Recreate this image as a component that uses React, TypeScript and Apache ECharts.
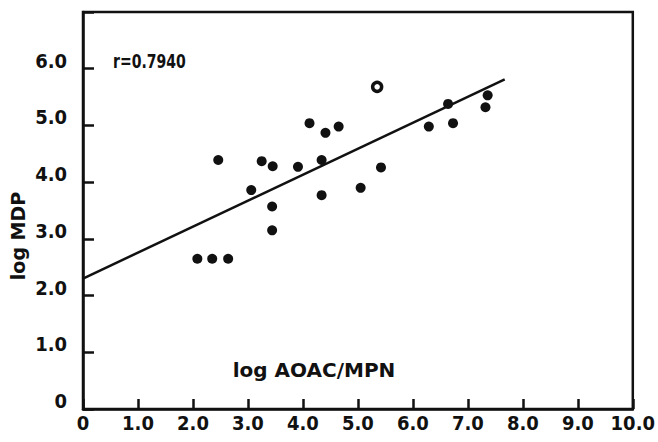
import React, { useEffect, useRef } from "react";
import * as echarts from "echarts";

const pointX = [2.08, 2.35, 2.64, 2.46, 3.06, 3.25, 3.44, 3.45, 3.44, 3.91, 4.12, 4.34, 4.34, 4.41, 4.65, 5.05, 5.42, 6.29, 6.64, 6.73, 7.32, 7.36];
const pointY = [2.65, 2.65, 2.65, 4.39, 3.86, 4.37, 3.15, 4.28, 3.57, 4.27, 5.04, 4.39, 3.77, 4.87, 4.98, 3.90, 4.26, 4.98, 5.38, 5.04, 5.32, 5.53];
const openX = [5.35];
const openY = [5.68];
const fitX = [0, 7.67];
const fitY = [2.3, 5.81];
const xTickLabels = ["0", "1.0", "2.0", "3.0", "4.0", "5.0", "6.0", "7.0", "8.0", "9.0", "10.0"];
const yTickLabels = ["0", "1.0", "2.0", "3.0", "4.0", "5.0", "6.0", ""];

const FONT = "DejaVu Sans";
const NARROW = '"DejaVu Sans Condensed", sans-serif';
const INK = "#111";

export default function App() {
  const ref = useRef<HTMLDivElement>(null);
  useEffect(() => {
    if (!ref.current) return;
    const chart = echarts.init(ref.current, null, { renderer: "svg" });
    const zip = (a: number[], b: number[]) => a.map((v, i) => [v, b[i]]);
    chart.setOption({
      animation: false,
      backgroundColor: "#fff",
      grid: {
        left: 83,
        top: 12,
        right: 22,
        bottom: 33,
        show: true,
        borderColor: INK,
        borderWidth: 2.5,
        backgroundColor: "transparent",
      },
      xAxis: {
        type: "value",
        min: 0,
        max: 10,
        interval: 1,
        splitLine: { show: false },
        axisLine: { show: true, lineStyle: { color: INK, width: 2.5 } },
        axisTick: { show: true, inside: true, length: 10, lineStyle: { color: INK, width: 2.5 } },
        axisLabel: {
          margin: 4,
          color: INK,
          fontFamily: NARROW,
          fontWeight: "bold",
          fontSize: 20,
          formatter: (v: number) => xTickLabels[Math.round(v)] ?? "",
        },
      },
      yAxis: {
        type: "value",
        min: 0,
        max: 7,
        interval: 1,
        splitLine: { show: false },
        axisLine: { show: true, lineStyle: { color: INK, width: 2.5 } },
        axisTick: { show: true, inside: true, length: 11, lineStyle: { color: INK, width: 2.5 } },
        axisLabel: {
          margin: 16,
          color: INK,
          fontFamily: NARROW,
          fontWeight: "bold",
          fontSize: 20,
          verticalAlign: "bottom",
          lineHeight: 16,
          formatter: (v: number) => yTickLabels[Math.round(v)] ?? "",
        },
      },
      series: [
        {
          type: "line",
          data: zip(fitX, fitY),
          showSymbol: false,
          lineStyle: { color: INK, width: 2.5 },
          z: 2,
        },
        {
          type: "scatter",
          data: zip(pointX, pointY),
          symbol: "circle",
          symbolSize: 10,
          itemStyle: { color: INK, opacity: 1 },
          z: 3,
        },
        {
          type: "scatter",
          data: zip(openX, openY),
          symbol: "circle",
          symbolSize: 9,
          itemStyle: { color: "#fff", borderColor: INK, borderWidth: 3.5, opacity: 1 },
          z: 3,
        },
      ],
      graphic: [
        {
          type: "text",
          x: 113,
          y: 61,
          scaleX: 0.78,
          style: {
            text: "r=0.7940",
            fill: INK,
            font: `bold 20px ${NARROW}`,
            align: "left",
            verticalAlign: "middle",
          },
        },
        {
          type: "text",
          x: 314,
          y: 370,
          style: {
            text: "log AOAC/MPN",
            fill: INK,
            font: `bold 20px "${FONT}"`,
            align: "center",
            verticalAlign: "middle",
          },
        },
        {
          type: "text",
          x: 18,
          y: 236,
          rotation: Math.PI / 2,
          style: {
            text: "log MDP",
            fill: INK,
            font: `bold 19px "${FONT}"`,
            align: "center",
            verticalAlign: "middle",
          },
        },
      ],
    });
    return () => chart.dispose();
  }, []);
  return (
    <div
      ref={ref}
      style={{ position: "absolute", left: 0, top: 0, width: 658, height: 442, background: "#fff" }}
    />
  );
}
